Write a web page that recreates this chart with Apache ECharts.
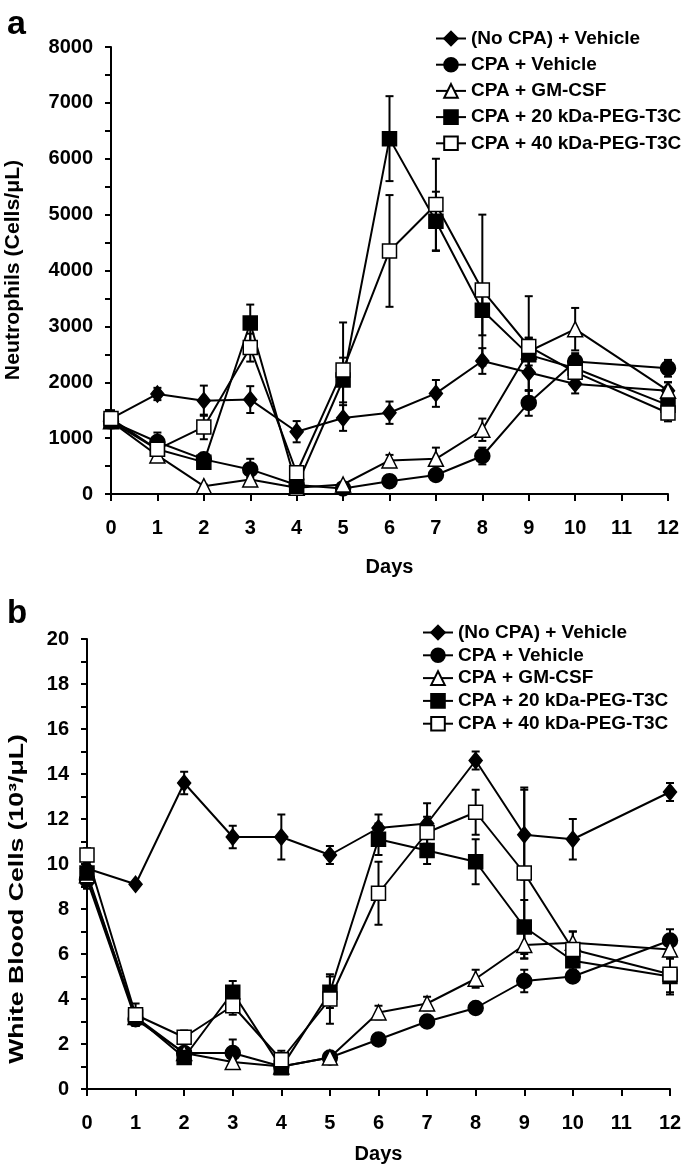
<!DOCTYPE html>
<html>
<head>
<meta charset="utf-8">
<script src="https://cdn.jsdelivr.net/npm/echarts@6/dist/echarts.min.js"></script>
<style>
  html, body { margin: 0; padding: 0; background: #fff; }
  #main { width: 685px; height: 1170px; }
</style>
</head>
<body>
<div id="main"></div>
<script>
// 天数
var days = [0, 1, 2, 3, 4, 5, 6, 7, 8, 9, 10, 12];

var names = ['(No CPA) + Vehicle', 'CPA + Vehicle', 'CPA + GM-CSF', 'CPA + 20 kDa-PEG-T3C', 'CPA + 40 kDa-PEG-T3C'];

// a: Neutrophils (Cells/μL)
var neuNoCpa = [1350, 1790, 1670, 1690, 1115, 1360, 1455, 1800, 2380, 2175, 1970, 1850];
var neuNoCpaErr = [150, 110, 270, 240, 190, 230, 200, 240, 230, 330, 170, 150];
var neuCpa = [1300, 930, 620, 440, 160, 100, 230, 340, 680, 1630, 2370, 2250];
var neuCpaErr = [120, 170, 80, 190, 40, 30, 40, 50, 150, 230, 150, 150];
var neuGm = [1300, 690, 140, 260, 110, 170, 600, 630, 1150, 2550, 2950, 1850];
var neuGmErr = [100, 80, 30, 40, 30, 30, 100, 200, 200, 250, 380, 150];
var neu20 = [1300, 800, 570, 3060, 140, 2040, 6360, 4880, 3290, 2490, 2250, 1590];
var neu20Err = [120, 150, 100, 330, 40, 400, 760, 530, 450, 300, 200, 150];
var neu40 = [1350, 800, 1200, 2620, 380, 2220, 4350, 5180, 3650, 2640, 2180, 1450];
var neu40Err = [100, 150, 220, 250, 60, 850, 1000, 820, 1350, 900, 200, 150];

// b: White Blood Cells (10^3/μL)
var wbcNoCpa = [9.8, 9.1, 13.6, 11.2, 11.2, 10.4, 11.6, 11.8, 14.6, 11.3, 11.1, 13.2];
var wbcNoCpaErr = [0.3, 0.1, 0.5, 0.5, 1.0, 0.4, 0.6, 0.9, 0.4, 2.0, 0.9, 0.4];
var wbcCpa = [9.3, 3.1, 1.6, 1.6, 1.0, 1.4, 2.2, 3.0, 3.6, 4.8, 5.0, 6.6];
var wbcCpaErr = [0.4, 0.3, 0.2, 0.6, 0.1, 0.1, 0.1, 0.1, 0.1, 0.5, 0.2, 0.5];
var wbcGm = [9.5, 3.2, 1.6, 1.2, 1.0, 1.4, 3.4, 3.8, 4.9, 6.4, 6.5, 6.2];
var wbcGmErr = [0.3, 0.3, 0.2, 0.1, 0.1, 0.1, 0.3, 0.3, 0.4, 0.6, 0.5, 0.4];
var wbc20 = [9.6, 3.2, 1.4, 4.3, 0.95, 4.3, 11.1, 10.6, 10.1, 7.2, 5.7, 5.0];
var wbc20Err = [0.3, 0.3, 0.2, 0.5, 0.2, 0.7, 0.7, 0.6, 1.0, 1.2, 0.4, 0.8];
var wbc40 = [10.4, 3.3, 2.3, 3.7, 1.3, 4.0, 8.7, 11.4, 12.3, 9.6, 6.2, 5.1];
var wbc40Err = [0.3, 0.5, 0.3, 0.4, 0.4, 1.1, 1.4, 0.7, 1.0, 3.8, 0.8, 0.8];

var FONT = '"Liberation Sans", Arial, sans-serif';

// 每个系列的符号
var markers = [
    { symbol: 'diamond', size: [13, 16], fill: '#000' },
    { symbol: 'circle', size: 15, fill: '#000' },
    { symbol: 'triangle', size: 15, fill: '#fff' },
    { symbol: 'rect', size: 14, fill: '#000' },
    { symbol: 'rect', size: 14, fill: '#fff' }
];

function pairs(vals) {
    var out = [];
    for (var i = 0; i < days.length; i++) {
        out.push([days[i], vals[i]]);
    }
    return out;
}

function errRows(vals, errs) {
    var out = [];
    for (var i = 0; i < days.length; i++) {
        out.push([days[i], vals[i] - errs[i], vals[i] + errs[i]]);
    }
    return out;
}

function renderErr(params, api) {
    var lo = api.coord([api.value(0), api.value(1)]);
    var hi = api.coord([api.value(0), api.value(2)]);
    var cap = 4;
    var st = { stroke: '#000', lineWidth: 2 };
    return {
        type: 'group',
        children: [
            { type: 'line', shape: { x1: lo[0], y1: lo[1], x2: hi[0], y2: hi[1] }, style: st },
            { type: 'line', shape: { x1: hi[0] - cap, y1: hi[1], x2: hi[0] + cap, y2: hi[1] }, style: st },
            { type: 'line', shape: { x1: lo[0] - cap, y1: lo[1], x2: lo[0] + cap, y2: lo[1] }, style: st }
        ]
    };
}

function lineSeries(i, vals, axisIdx) {
    var m = markers[i];
    return {
        name: names[i],
        type: 'line',
        xAxisIndex: axisIdx,
        yAxisIndex: axisIdx,
        data: pairs(vals),
        symbol: m.symbol,
        symbolSize: m.size,
        z: 5,
        lineStyle: { color: '#000', width: 2 },
        itemStyle: { color: m.fill, borderColor: '#000', borderWidth: 1.5 },
        emphasis: { disabled: true },
        animation: false
    };
}

function errSeries(vals, errs, axisIdx) {
    return {
        type: 'custom',
        xAxisIndex: axisIdx,
        yAxisIndex: axisIdx,
        data: errRows(vals, errs),
        renderItem: renderErr,
        z: 3,
        silent: true,
        animation: false
    };
}

function xAxisCfg(grid, gap) {
    return {
        type: 'value',
        gridIndex: grid,
        min: 0,
        max: 12,
        interval: 1,
        name: 'Days',
        nameLocation: 'middle',
        nameGap: gap,
        nameTextStyle: { fontFamily: FONT, fontWeight: 'bold', fontSize: 20, color: '#000', verticalAlign: 'top' },
        axisLine: { lineStyle: { color: '#000', width: 2 } },
        axisTick: { length: 7, lineStyle: { color: '#000', width: 2 } },
        axisLabel: { margin: 24, fontFamily: FONT, fontWeight: 'bold', fontSize: 20, color: '#000' },
        splitLine: { show: false }
    };
}

function yAxisCfg(grid, max, interval) {
    return {
        type: 'value',
        gridIndex: grid,
        min: 0,
        max: max,
        interval: interval,
        axisLine: { show: true, lineStyle: { color: '#000', width: 2 } },
        axisTick: { length: 6, lineStyle: { color: '#000', width: 2 } },
        minorTick: { show: true, splitNumber: 2, length: 6, lineStyle: { color: '#000', width: 2 } },
        axisLabel: {
            margin: 18, fontFamily: FONT, fontWeight: 'bold', fontSize: 20, color: '#000',
            formatter: function(v) { return String(v); }
        },
        splitLine: { show: false },
        minorSplitLine: { show: false }
    };
}

function legendCfg(left, top, gap) {
    return {
        data: names,
        orient: 'vertical',
        left: left,
        top: top,
        padding: 0,
        itemWidth: 30,
        itemHeight: 17,
        itemGap: gap,
        selectedMode: false,
        textStyle: { fontFamily: FONT, fontWeight: 'bold', fontSize: 19, color: '#000' }
    };
}

// 竖排的纵轴标题
function yTitle(text, x, y, scale) {
    return {
        type: 'text',
        x: x,
        y: y,
        rotation: Math.PI / 2,
        scaleX: scale,
        style: { text: text, font: 'bold 20px ' + FONT, fill: '#000', align: 'center', verticalAlign: 'middle' }
    };
}

var chart = echarts.init(document.getElementById('main'), null, { renderer: 'canvas' });

var series = [];
var neuVals = [neuNoCpa, neuCpa, neuGm, neu20, neu40];
var neuErrs = [neuNoCpaErr, neuCpaErr, neuGmErr, neu20Err, neu40Err];
var wbcVals = [wbcNoCpa, wbcCpa, wbcGm, wbc20, wbc40];
var wbcErrs = [wbcNoCpaErr, wbcCpaErr, wbcGmErr, wbc20Err, wbc40Err];
for (var i = 0; i < 5; i++) {
    series.push(errSeries(neuVals[i], neuErrs[i], 0));
    series.push(lineSeries(i, neuVals[i], 0));
    series.push(errSeries(wbcVals[i], wbcErrs[i], 1));
    series.push(lineSeries(i, wbcVals[i], 1));
}

var option = {
    backgroundColor: '#fff',
    animation: false,
    grid: [
        { left: 111, top: 47, width: 557, height: 447 },
        { left: 87, top: 639, width: 583, height: 450 }
    ],
    xAxis: [xAxisCfg(0, 63), xAxisCfg(1, 55)],
    yAxis: [yAxisCfg(0, 8000, 1000), yAxisCfg(1, 20, 2)],
    legend: [legendCfg(435, 29, 7.2), legendCfg(422, 623, 3.8)],
    graphic: [
        { type: 'text', left: 7, top: 8, style: { text: 'a', font: 'bold 34px ' + FONT, fill: '#000' } },
        { type: 'text', left: 7, top: 597, style: { text: 'b', font: 'bold 33px ' + FONT, fill: '#000' } },
        yTitle('Neutrophils (Cells/\u03bcL)', 13, 270, 1.06),
        yTitle('White Blood Cells (10\u00b3/\u03bcL)', 17, 899, 1.33)
    ],
    series: series
};

chart.setOption(option);
</script>
</body>
</html>
